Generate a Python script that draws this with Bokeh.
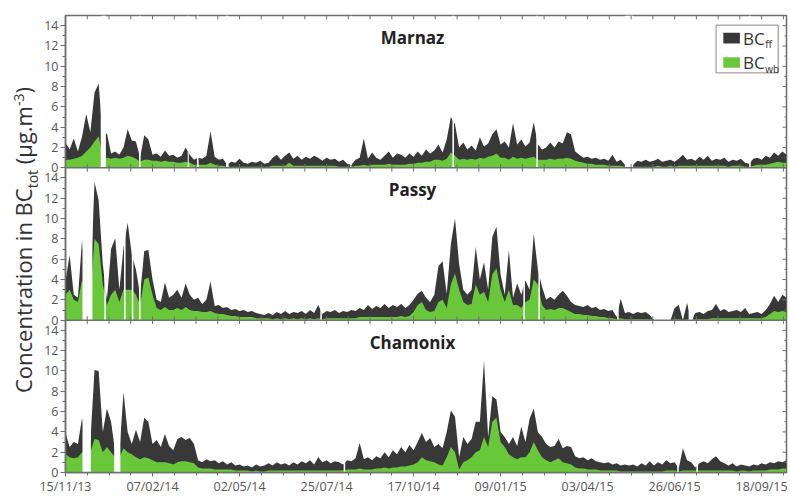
from datetime import datetime
from bokeh.plotting import figure
from bokeh.models import Range1d, FixedTicker, LinearAxis, ColumnDataSource, Span, Div
from bokeh.layouts import row
from bokeh.embed import file_html
from bokeh.resources import INLINE
from bokeh.core.properties import value

# ---------------- data ----------------
START_DATE = "15/11/13"
STEP_DAYS = 4          # sampling step of the series below (days)
SPAN_DAYS = 696        # shown period, days after START_DATE

TICK_LABELS = ["15/11/13", "07/02/14", "02/05/14", "25/07/14", "17/10/14",
               "09/01/15", "03/04/15", "26/06/15", "18/09/15"]
MINOR_STEP_DAYS = 21
Y_TICKS = [0, 2, 4, 6, 8, 10, 12, 14]
Y_MAX = 15

STATIONS = ["Marnaz", "Passy", "Chamonix"]

marnaz_tot = [
    2.5, 1.8, 2.9, 1.6, 3.1, 5.3, 3.5, 7.4, 8.3, 3.0,
    3.4, 1.4, 1.6, 1.3, 2.0, 3.8, 2.7, 2.6, 1.0, 3.2,
    2.8, 1.3, 1.4, 1.1, 1.7, 1.2, 1.3, 1.0, 1.2, 2.0,
    1.3, 0.8, 1.0, 0.9, 1.2, 3.6, 1.1, 0.8, 0.9, 0.3,
    0.6, 0.5, 0.9, 0.5, 0.4, 0.6, 0.5, 0.7, 0.4, 0.5,
    1.0, 1.3, 0.8, 1.2, 1.5, 0.9, 1.2, 0.8, 1.1, 0.9,
    1.2, 1.0, 0.7, 1.0, 0.8, 0.9, 0.6, 0.8, 0.4, 0.3,
    0.8, 1.0, 2.9, 0.9, 1.5, 1.0, 0.8, 1.2, 1.6, 1.0,
    1.4, 1.3, 1.0, 1.4, 1.1, 1.6, 1.2, 1.8, 1.4, 1.7,
    2.3, 1.5, 2.8, 5.0, 4.3, 2.0, 2.5, 1.8, 2.2, 1.7,
    3.0, 2.1, 2.4, 3.3, 3.8, 2.3, 2.6, 2.0, 4.4, 2.3,
    2.8, 2.1, 2.5, 4.5, 2.3, 1.8, 2.0, 2.5, 2.0, 2.6,
    2.4, 3.5, 3.3, 1.6, 1.3, 1.0, 1.1, 0.9, 1.0, 0.8,
    0.9, 0.7, 1.3, 0.6, 0.8, 0.3, 0.2, 0.3, 0.7, 0.6,
    0.8, 0.6, 0.7, 0.9, 0.6, 0.7, 0.8, 0.6, 0.9, 1.3,
    0.8, 0.9, 0.7, 1.1, 0.8, 1.2, 0.7, 0.9, 0.8, 1.0,
    0.6, 0.8, 0.7, 0.9, 0.5, 0.4, 0.9, 1.0, 0.8, 1.2,
    1.0, 1.5, 1.2, 1.6, 1.3]
marnaz_wb = [
    0.8, 0.8, 0.9, 1.0, 1.2, 1.6, 2.0, 2.6, 3.1, 1.0,
    1.0, 0.9, 1.0, 0.9, 1.0, 1.2, 1.1, 0.9, 0.6, 0.8,
    0.8, 0.7, 0.7, 0.6, 0.7, 0.6, 0.6, 0.5, 0.5, 0.6,
    0.5, 0.3, 0.3, 0.3, 0.3, 0.5, 0.3, 0.2, 0.2, 0.1,
    0.1, 0.1, 0.1, 0.1, 0.1, 0.1, 0.1, 0.1, 0.1, 0.1,
    0.2, 0.2, 0.2, 0.2, 0.5, 0.2, 0.2, 0.2, 0.2, 0.2,
    0.2, 0.2, 0.2, 0.2, 0.2, 0.2, 0.1, 0.1, 0.1, 0.1,
    0.2, 0.2, 0.3, 0.2, 0.3, 0.3, 0.3, 0.3, 0.4, 0.3,
    0.3, 0.3, 0.3, 0.4, 0.4, 0.5, 0.5, 0.6, 0.6, 0.8,
    0.8, 0.7, 0.9, 1.5, 1.2, 0.8, 0.9, 0.8, 0.9, 0.8,
    1.0, 0.9, 1.1, 1.2, 1.4, 1.0, 1.0, 0.8, 1.1, 0.9,
    1.0, 0.9, 1.0, 1.1, 0.8, 0.8, 0.8, 0.9, 0.8, 0.9,
    0.9, 1.0, 0.9, 0.7, 0.6, 0.5, 0.4, 0.4, 0.3, 0.3,
    0.3, 0.2, 0.2, 0.2, 0.2, 0.1, 0.1, 0.1, 0.1, 0.1,
    0.1, 0.1, 0.1, 0.2, 0.1, 0.1, 0.2, 0.1, 0.2, 0.2,
    0.2, 0.2, 0.2, 0.2, 0.2, 0.2, 0.2, 0.2, 0.2, 0.2,
    0.1, 0.2, 0.2, 0.2, 0.1, 0.1, 0.2, 0.3, 0.3, 0.3,
    0.4, 0.5, 0.6, 0.5, 0.5]

passy_tot = [
    3.9, 6.4, 2.5, 2.2, 8.0, 3.0, 3.0, 13.6, 11.8, 5.5,
    2.0, 7.0, 8.1, 3.0, 7.1, 9.6, 6.5, 5.0, 2.5, 6.8,
    6.9, 4.0, 2.0, 1.8, 3.7, 2.2, 2.5, 3.0, 2.2, 3.6,
    2.5, 2.0, 2.2, 1.6, 2.0, 3.8, 1.4, 1.5, 1.2, 1.3,
    1.0, 1.1, 0.9, 1.0, 0.8, 0.9, 0.7, 0.6, 0.5, 0.7,
    0.5, 0.8, 0.6, 0.9, 0.6, 0.8, 0.7, 0.9, 0.6, 1.0,
    0.7, 1.5, 0.6, 0.9, 0.8, 1.0, 0.7, 0.9, 0.8, 1.0,
    0.9, 1.2, 1.0, 1.5, 1.1, 1.4, 1.2, 1.6, 1.2, 1.5,
    1.3, 1.6, 1.2, 1.5, 2.0, 2.6, 2.9, 2.2, 1.8, 2.5,
    5.3, 5.8, 2.6, 7.5, 10.0, 5.5, 3.0, 2.5, 3.0, 7.2,
    4.0, 5.7, 3.0, 8.2, 9.2, 4.5, 2.5, 6.9, 2.2, 3.6,
    2.5, 3.9, 3.0, 8.5, 5.0, 3.3, 2.0, 2.3, 2.0, 2.5,
    2.9, 2.4, 1.8, 1.5, 1.4, 1.3, 1.5, 1.2, 1.3, 1.0,
    1.1, 0.9, 1.0, 0.3, 2.1, 0.7, 0.8, 0.6, 0.8, 0.7,
    0.8, 0.5, 0.0, 0.0, 0.0, 0.0, 0.0, 1.2, 1.5, 0.0,
    1.7, 0.0, 0.7, 0.8, 0.6, 0.9, 1.0, 1.6, 0.9, 1.1,
    0.8, 0.9, 1.0, 0.8, 1.2, 0.6, 0.7, 0.8, 0.6, 1.0,
    1.6, 2.4, 1.8, 2.5, 2.2]
passy_wb = [
    2.5, 3.0, 2.0, 1.8, 4.0, 2.0, 2.0, 8.0, 7.5, 3.5,
    1.5, 2.5, 3.0, 1.8, 3.0, 3.0, 3.0, 2.5, 1.5, 4.0,
    4.2, 2.5, 1.2, 1.0, 1.3, 1.0, 1.0, 1.2, 1.0, 1.3,
    1.0, 0.9, 0.9, 0.8, 0.8, 0.9, 0.7, 0.6, 0.6, 0.5,
    0.4, 0.4, 0.3, 0.3, 0.3, 0.3, 0.2, 0.2, 0.2, 0.2,
    0.1, 0.2, 0.1, 0.2, 0.1, 0.2, 0.1, 0.2, 0.1, 0.2,
    0.1, 0.2, 0.1, 0.2, 0.2, 0.2, 0.2, 0.2, 0.2, 0.2,
    0.2, 0.3, 0.3, 0.3, 0.3, 0.3, 0.3, 0.3, 0.3, 0.3,
    0.3, 0.4, 0.3, 0.4, 0.8, 1.5, 1.8, 1.0, 0.8, 0.9,
    1.8, 2.0, 1.2, 3.5, 4.6, 3.0, 1.8, 1.5, 1.6, 3.5,
    2.5, 2.8, 1.8, 4.5, 5.1, 3.0, 1.8, 3.0, 1.5, 1.5,
    1.2, 1.8, 2.0, 4.0, 3.5, 1.5, 1.0, 1.1, 1.0, 1.2,
    1.2, 1.0, 0.8, 0.6, 0.6, 0.5, 0.5, 0.4, 0.4, 0.3,
    0.3, 0.2, 0.2, 0.1, 0.2, 0.1, 0.1, 0.1, 0.1, 0.1,
    0.1, 0.1, 0.0, 0.0, 0.0, 0.0, 0.0, 0.1, 0.1, 0.0,
    0.1, 0.0, 0.1, 0.1, 0.1, 0.1, 0.2, 0.2, 0.2, 0.2,
    0.2, 0.2, 0.2, 0.2, 0.2, 0.2, 0.2, 0.2, 0.2, 0.3,
    0.6, 0.9, 0.8, 0.9, 0.8]

chamonix_tot = [
    3.9, 2.5, 3.0, 2.8, 5.4, 3.0, 3.0, 10.1, 10.0, 4.0,
    6.3, 5.0, 2.0, 2.0, 7.9, 4.0, 2.8, 4.2, 3.0, 5.4,
    5.0, 2.8, 3.2, 2.5, 3.8, 2.6, 2.2, 3.3, 3.5, 3.2,
    3.4, 2.8, 1.2, 1.0, 1.3, 1.1, 1.2, 0.9, 1.1, 0.8,
    1.0, 0.7, 0.8, 0.6, 0.7, 0.5, 0.8, 0.6, 0.7, 0.9,
    0.7, 1.0, 0.8, 0.9, 0.7, 1.0, 0.8, 1.1, 0.9, 1.2,
    0.8, 1.5, 1.0, 1.2, 0.9, 1.1, 1.0, 0.8, 1.2, 1.1,
    1.4, 2.9, 1.3, 1.5, 1.2, 1.6, 1.4, 2.0, 1.5, 2.2,
    1.8, 2.5, 2.0, 2.7, 2.2, 3.0, 3.9, 3.0, 3.4, 2.5,
    2.8, 2.4, 4.0, 6.1, 5.5, 1.5, 3.5, 2.8, 3.3, 5.0,
    5.0, 11.0, 3.5, 7.5, 7.2, 4.0, 3.5, 2.8, 3.5, 2.6,
    4.5, 3.0, 5.3, 6.3, 4.0, 3.5, 2.8, 2.5, 2.6, 3.3,
    2.4, 2.6, 2.5, 1.6, 1.4, 1.5, 1.2, 1.4, 1.1, 1.0,
    0.9, 1.0, 0.8, 0.9, 0.7, 0.8, 0.7, 0.8, 0.6, 0.9,
    0.7, 1.1, 0.7, 1.0, 0.8, 1.2, 0.9, 1.0, 0.4, 2.4,
    1.2, 1.0, 0.5, 0.9, 1.1, 0.9, 1.3, 1.6, 1.1, 0.9,
    0.7, 0.9, 0.6, 0.8, 0.7, 0.6, 0.8, 0.7, 0.9, 0.8,
    1.0, 0.9, 1.1, 1.0, 1.2]
chamonix_wb = [
    1.8, 1.5, 1.4, 1.5, 2.0, 2.0, 2.0, 3.3, 3.2, 2.0,
    2.5, 2.0, 1.5, 1.5, 2.4, 2.0, 1.8, 1.5, 1.3, 1.5,
    1.4, 1.2, 1.0, 1.0, 1.0, 0.9, 0.8, 1.0, 1.1, 1.1,
    1.0, 0.9, 0.5, 0.4, 0.4, 0.4, 0.3, 0.3, 0.3, 0.3,
    0.3, 0.2, 0.2, 0.2, 0.2, 0.1, 0.2, 0.1, 0.1, 0.2,
    0.2, 0.2, 0.2, 0.2, 0.2, 0.2, 0.2, 0.2, 0.2, 0.2,
    0.2, 0.2, 0.2, 0.2, 0.2, 0.2, 0.2, 0.2, 0.3, 0.3,
    0.3, 0.4, 0.3, 0.3, 0.3, 0.4, 0.4, 0.5, 0.4, 0.5,
    0.5, 0.6, 0.6, 0.7, 0.8, 1.0, 1.5, 1.2, 1.1, 1.0,
    0.8, 0.7, 1.5, 2.5, 2.0, 0.3, 1.0, 1.2, 1.5, 2.0,
    2.2, 3.5, 2.5, 5.0, 5.4, 3.0, 2.5, 1.8, 1.5, 1.3,
    1.5, 1.5, 2.0, 3.0, 2.2, 1.5, 1.2, 1.0, 1.2, 1.4,
    1.0, 0.9, 0.8, 0.5, 0.4, 0.4, 0.3, 0.3, 0.3, 0.2,
    0.2, 0.2, 0.2, 0.2, 0.1, 0.1, 0.1, 0.1, 0.1, 0.1,
    0.1, 0.1, 0.1, 0.1, 0.1, 0.2, 0.2, 0.2, 0.1, 0.2,
    0.2, 0.2, 0.2, 0.2, 0.2, 0.2, 0.2, 0.2, 0.2, 0.2,
    0.2, 0.2, 0.1, 0.2, 0.2, 0.1, 0.2, 0.2, 0.2, 0.2,
    0.3, 0.3, 0.3, 0.4, 0.4]

# missing-data periods (start day, end day after START_DATE)
marnaz_gaps = [(34, 39), (71, 72.5), (118, 119), (127, 128.5), (155, 157.5),
               (275, 276), (373.5, 375), (454.5, 456), (540, 548), (660, 661.5)]
passy_gaps = [(16.4, 26), (37.5, 39), (56.5, 58), (64, 65.5), (71, 72.5),
              (246, 247.5), (442, 443.5), (456.5, 458), (532.5, 534), (601.5, 606)]
chamonix_gaps = [(16.4, 24.5), (47, 53), (268.5, 270), (590.5, 592), (609, 610.5)]

SERIES = {
    "Marnaz": (marnaz_tot, marnaz_wb, marnaz_gaps),
    "Passy": (passy_tot, passy_wb, passy_gaps),
    "Chamonix": (chamonix_tot, chamonix_wb, chamonix_gaps),
}

# ---------------- style ----------------
DARK = "#383838"
GREEN = "#68c83a"
AX = "#6e6e6e"
TXT = "#555555"
FONT = "Open Sans"
TITLE_DAY = 335
W, H = 790, 497
LAB_W = 38

start = datetime.strptime(START_DATE, "%d/%m/%y")


def day_of(label):
    return (datetime.strptime(label, "%d/%m/%y") - start).days


tick_days = [day_of(s) for s in TICK_LABELS]
minor_days = list(range(0, SPAN_DAYS + 1, MINOR_STEP_DAYS))
x_overrides = {d: s for d, s in zip(tick_days, TICK_LABELS)}

n_panels = len(STATIONS)
y_major, y_minor, y_overrides = [], [], {}
for k in range(n_panels):
    base = (n_panels - 1 - k) * Y_MAX
    for t in Y_TICKS:
        y_major.append(base + t)
        y_overrides[base + t] = str(t)
    for t in range(1, Y_TICKS[-1], 2):
        y_minor.append(base + t)
y_major.sort()
y_minor.sort()
Y_TOP = n_panels * Y_MAX

p = figure(width=W - LAB_W, height=H, x_range=Range1d(0, SPAN_DAYS),
           y_range=Range1d(0, Y_TOP),
           output_backend="svg", toolbar_location=None,
           x_axis_location=None, y_axis_location=None,
           min_border_left=27, min_border_right=4, min_border_top=15, min_border_bottom=21,
           outline_line_color=AX, outline_line_width=1.5,
           background_fill_color="white", border_fill_color="white")
p.grid.visible = False

p.extra_y_ranges = {
    st: Range1d(-(n_panels - 1 - k) * Y_MAX, (k + 1) * Y_MAX) for k, st in enumerate(STATIONS)
}


def style_axis(ax, tick_out, minor_out):
    ax.axis_line_color = AX
    ax.axis_line_width = 1.5
    ax.major_tick_line_color = AX
    ax.minor_tick_line_color = AX
    ax.major_tick_in = 0
    ax.major_tick_out = tick_out
    ax.minor_tick_in = 0
    ax.minor_tick_out = minor_out
    ax.major_label_text_font = FONT
    ax.major_label_text_font_size = "12.5px"
    ax.major_label_text_color = TXT
    ax.major_label_standoff = 2


left = LinearAxis(ticker=FixedTicker(ticks=y_major, minor_ticks=y_minor))
style_axis(left, 5, 3)
left.major_label_overrides = y_overrides
p.add_layout(left, "left")

below = LinearAxis(ticker=FixedTicker(ticks=tick_days, minor_ticks=minor_days))
style_axis(below, 4, 3)
below.major_label_standoff = 1
below.major_label_overrides = x_overrides
p.add_layout(below, "below")

for k in range(1, n_panels):
    p.add_layout(Span(location=k * Y_MAX, dimension="width", line_color=AX, line_width=1.5))

for k, st in enumerate(STATIONS):
    tot, wb, gaps = SERIES[st]
    assert len(tot) == len(wb)
    days = [STEP_DAYS * i for i in range(len(tot))]
    src = ColumnDataSource(dict(day=days, tot=tot, wb=wb))
    p.varea(x="day", y1=0, y2="tot", source=src, fill_color=DARK, y_range_name=st)
    p.varea(x="day", y1=0, y2="wb", source=src, fill_color=GREEN, y_range_name=st)
    p.quad(left=[g[0] for g in gaps], right=[g[1] for g in gaps], bottom=0, top=Y_MAX,
           fill_color="white", line_color=None, y_range_name=st)
    p.text(x=[TITLE_DAY], y=[12.85], text=[st], text_align="center", text_baseline="middle",
           text_font=value(FONT), text_font_style="bold", text_font_size="17px",
           text_color="#222222", y_range_name=st)

# inward tick marks on the inner boundaries, the top edge and the right edge
all_x_ticks = sorted(set(tick_days + minor_days))
TICK_H = 0.38   # value units (~4 px)
TICK_W = 3.9    # day units (~4 px)
for k in range(1, n_panels):
    yb = k * Y_MAX
    p.segment(x0=all_x_ticks, x1=all_x_ticks, y0=yb - TICK_H, y1=yb + TICK_H,
              line_color=AX, line_width=1)
p.segment(x0=all_x_ticks, x1=all_x_ticks, y0=Y_TOP - TICK_H, y1=Y_TOP,
          line_color=AX, line_width=1)
p.segment(x0=SPAN_DAYS - TICK_W, x1=SPAN_DAYS, y0=y_major, y1=y_major,
          line_color=AX, line_width=1)
p.segment(x0=SPAN_DAYS - TICK_W / 2, x1=SPAN_DAYS, y0=y_minor, y1=y_minor,
          line_color=AX, line_width=1)

# legend (drawn in the top panel)
LG = STATIONS[0]
p.quad(left=[628], right=[688], bottom=[9.35], top=[14.05], fill_color="white",
       line_color="#8a8a8a", line_width=1, y_range_name=LG)
p.quad(left=[635, 635], right=[651, 651], bottom=[12.25, 9.85], top=[13.3, 10.9],
       fill_color=[DARK, GREEN], line_color=None, y_range_name=LG)
p.text(x=[654, 654], y=[12.75, 10.35], text=["BC", "BC"], text_align="left",
       text_baseline="middle", text_font=value(FONT), text_font_size="17px",
       text_color="#333333", y_range_name=LG)
p.text(x=[675.5, 675.5], y=[12.15, 9.75], text=["ff", "wb"], text_align="left",
       text_baseline="middle", text_font=value(FONT), text_font_size="10px",
       text_color="#333333", y_range_name=LG)

# y-axis title (rotated, with sub/superscripts) in a narrow column on the left
ylabel_html = (
    '<div style="position:relative;width:%dpx;height:%dpx;">'
    '<span style="position:absolute;left:26px;top:240px;'
    'transform:translate(-50%%,-50%%) rotate(-90deg);white-space:nowrap;'
    "font-family:'Open Sans',sans-serif;font-size:22px;color:#333333;line-height:1;\">"
    'Concentration in BC<sub style="font-size:14px;">tot</sub> '
    '(&micro;g.m<sup style="font-size:14px;">-3</sup>)'
    '</span></div>' % (LAB_W, H))
lab = Div(text=ylabel_html, width=LAB_W, height=H, margin=(0, 0, 0, 0))

layout = row(lab, p)
open("out.html", "w").write(file_html(layout, INLINE))
